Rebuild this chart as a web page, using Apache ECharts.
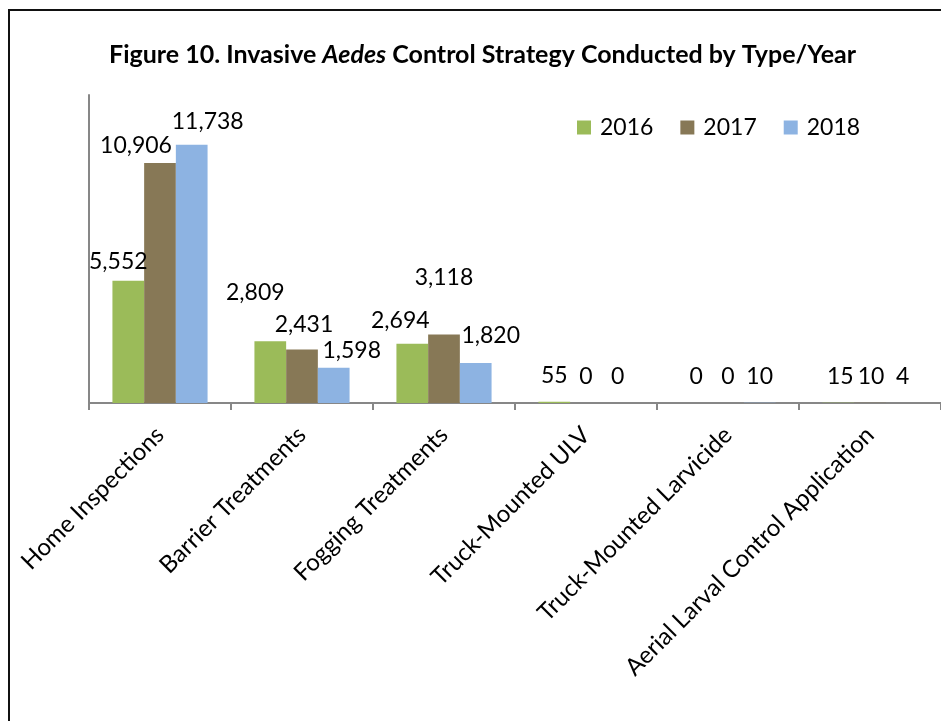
<!DOCTYPE html>
<html>
<head>
<meta charset="utf-8">
<script src="https://cdn.jsdelivr.net/npm/echarts@6/dist/echarts.min.js"></script>
<style>
  html, body { margin: 0; padding: 0; background: #fff; }
  #chart { width: 941px; height: 721px; }
</style>
</head>
<body>
<div id="chart"></div>
<script>
"use strict";

const CATEGORIES = [
  "Home Inspections",
  "Barrier Treatments",
  "Fogging Treatments",
  "Truck-Mounted ULV",
  "Truck-Mounted Larvicide",
  "Aerial Larval Control Application"
];
const YEARS     = ["2016", "2017", "2018"];
const VALS_2016 = [5552, 2809, 2694, 55, 0, 15];
const VALS_2017 = [10906, 2431, 3118, 0, 0, 10];
const VALS_2018 = [11738, 1598, 1820, 0, 10, 4];

const COLORS = ["#9BBB59", "#877856", "#8DB3E2"];
const FONT   = "Lato, 'Open Sans', sans-serif";

// label nudges (Excel had these labels dragged by hand)
const NUDGE = [
  [[-10, -3], [-15, -32], [-12, -7], [0, -10], [0, -10], [2, -10]],
  [[-24, -1], [2, -8],    [0, -40],  [0, -10], [0, -10], [1, -10]],
  [[16, -7],  [18, -1],   [15, -11], [0, -10], [0, -10], [1, -10]]
];

function makeSeries(name, vals, idx) {
  return {
    name: name,
    type: "bar",
    barGap: "0%",
    barCategoryGap: "33%",
    itemStyle: { color: COLORS[idx] },
    data: vals.map((v, i) => ({
      value: v,
      label: { offset: NUDGE[idx][i] }
    })),
    label: {
      show: true,
      position: "top",
      distance: 5,
      fontFamily: FONT,
      fontSize: 23,
      color: "#000",
      formatter: p => p.value.toLocaleString("en-US")
    }
  };
}

const chart = echarts.init(document.getElementById("chart"));
chart.setOption({
  backgroundColor: "#fff",
  animation: false,
  textStyle: { fontFamily: FONT },
  title: {
    left: 104,
    top: 37,
    text: "{b|Figure 10. Invasive }{i|Aedes}{b| Control Strategy Conducted by Type/Year}",
    textStyle: {
      rich: {
        b: { fontFamily: FONT, fontSize: 25, fontWeight: "bold", color: "#000" },
        i: { fontFamily: FONT, fontSize: 25, fontWeight: "bold", fontStyle: "italic", color: "#000" }
      }
    }
  },
  legend: {
    left: 572,
    top: 111,
    itemWidth: 14,
    itemHeight: 14,
    itemGap: 27,
    icon: "rect",
    data: YEARS,
    textStyle: { fontFamily: FONT, fontSize: 23, color: "#000", padding: [0, 0, 0, 4] }
  },
  graphic: [{
    type: "rect",
    silent: true,
    shape: { x: 9, y: 10, width: 1100, height: 1100 },
    style: { fill: "none", stroke: "#111", lineWidth: 2 }
  }],
  grid: { left: 89, right: -10, top: 95, bottom: 318, containLabel: false },
  xAxis: {
    type: "category",
    data: CATEGORIES,
    axisLine: { lineStyle: { color: "#878787", width: 2 } },
    axisTick: { show: true, length: 7, lineStyle: { color: "#878787", width: 2 } },
    axisLabel: {
      rotate: 45,
      margin: 28,
      interval: 0,
      fontFamily: FONT,
      fontSize: 24,
      color: "#000"
    }
  },
  yAxis: {
    type: "value",
    min: 0,
    max: 14000,
    interval: 2000,
    axisLine: { show: true, lineStyle: { color: "#878787", width: 2 } },
    axisTick: { show: false },
    axisLabel: { show: false },
    splitLine: { show: false }
  },
  series: [
    makeSeries(YEARS[0], VALS_2016, 0),
    makeSeries(YEARS[1], VALS_2017, 1),
    makeSeries(YEARS[2], VALS_2018, 2)
  ]
});
</script>
</body>
</html>
